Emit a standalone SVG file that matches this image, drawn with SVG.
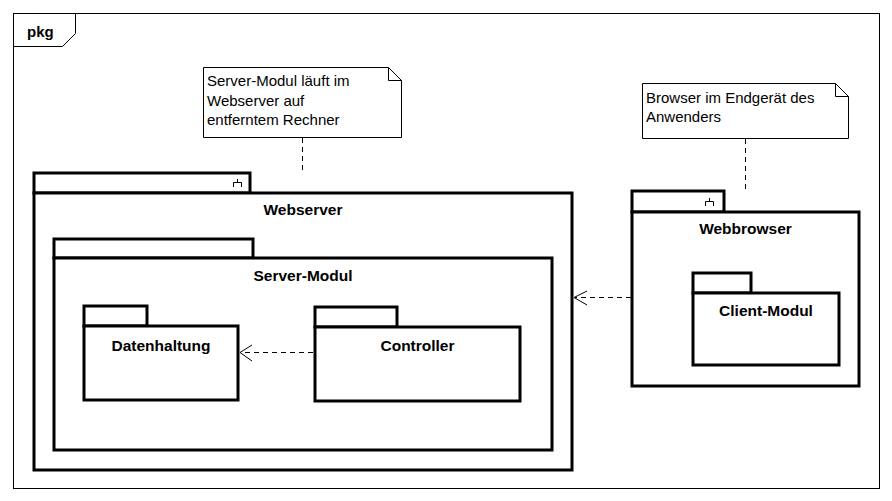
<svg xmlns="http://www.w3.org/2000/svg" width="892" height="501" viewBox="0 0 892 501">
<style>
.pk{fill:#fff;stroke:#000;stroke-width:3}
.thin{fill:#fff;stroke:#000;stroke-width:1}
.nm{font-family:"Liberation Sans",Arial,sans-serif;font-weight:bold;font-size:15.5px;text-anchor:middle;fill:#000}
.nt{font-family:"Liberation Sans",Arial,sans-serif;font-size:15px;fill:#000}
.dash{fill:none;stroke:#000;stroke-width:1;stroke-dasharray:5,4}
.arr{fill:none;stroke:#000;stroke-width:1}
</style>
<rect x="0" y="0" width="892" height="501" fill="#fff"/>
<g id="frame">
<rect x="13.5" y="13.5" width="866" height="475" class="thin"/>
<path d="M13.5 46.5 H62.5 L75.5 33.5 V13.5" class="arr"/>
<text x="27" y="37" class="nm" style="text-anchor:start;font-size:15px">pkg</text>
</g>
<g id="note1">
<path d="M203.5 67.5 H388.5 L401.5 80.5 V137.5 H203.5 Z" class="thin"/>
<path d="M388.5 67.5 V80.5 H401.5" class="arr"/>
<text class="nt" x="207" y="86">Server-Modul läuft im</text>
<text class="nt" x="207" y="106">Webserver auf</text>
<text class="nt" x="207" y="125">entferntem Rechner</text>
</g>
<g id="note2">
<path d="M642.5 83.5 H835.5 L848.5 96.5 V138.5 H642.5 Z" class="thin"/>
<path d="M835.5 83.5 V96.5 H848.5" class="arr"/>
<text class="nt" x="646" y="103">Browser im Endgerät des</text>
<text class="nt" x="646" y="122">Anwenders</text>
</g>
<g id="webserver">
<rect x="34" y="173" width="216" height="20" class="pk"/>
<rect x="34" y="193" width="538" height="277" class="pk"/>
<path d="M233.5 187 V182.5 H241.5 V187 M237.5 182.5 V179" class="arr"/>
<text class="nm" x="303" y="215">Webserver</text>
</g>
<g id="server-modul">
<rect x="54" y="239" width="199" height="19" class="pk"/>
<rect x="54" y="258" width="498" height="192" class="pk"/>
<text class="nm" x="303" y="281">Server-Modul</text>
</g>
<g id="datenhaltung">
<rect x="84" y="306" width="63" height="20" class="pk"/>
<rect x="84" y="326" width="154" height="74" class="pk"/>
<text class="nm" x="161" y="351">Datenhaltung</text>
</g>
<g id="controller">
<rect x="315" y="307" width="82" height="20" class="pk"/>
<rect x="315" y="327" width="205" height="74" class="pk"/>
<text class="nm" x="417.5" y="351">Controller</text>
</g>
<g id="webbrowser">
<rect x="632" y="191" width="92" height="21" class="pk"/>
<rect x="632" y="212" width="227" height="174" class="pk"/>
<path d="M705.5 206 V201.5 H713.5 V206 M709.5 201.5 V198" class="arr"/>
<text class="nm" x="745.5" y="234">Webbrowser</text>
</g>
<g id="client-modul">
<rect x="693" y="273" width="58" height="20" class="pk"/>
<rect x="693" y="293" width="146" height="72" class="pk"/>
<text class="nm" x="766" y="316">Client-Modul</text>
</g>
<g id="connectors">
<path d="M302.5 138 V172" class="dash"/>
<path d="M745.5 139 V191" class="dash"/>
<path d="M631 297.5 H575" class="dash"/>
<path d="M587 291 L574 297.5 L587 305" class="arr"/>
<path d="M313 352.5 H241" class="dash"/>
<path d="M252 345 L240 352.5 L252 361" class="arr"/>
</g>
</svg>
